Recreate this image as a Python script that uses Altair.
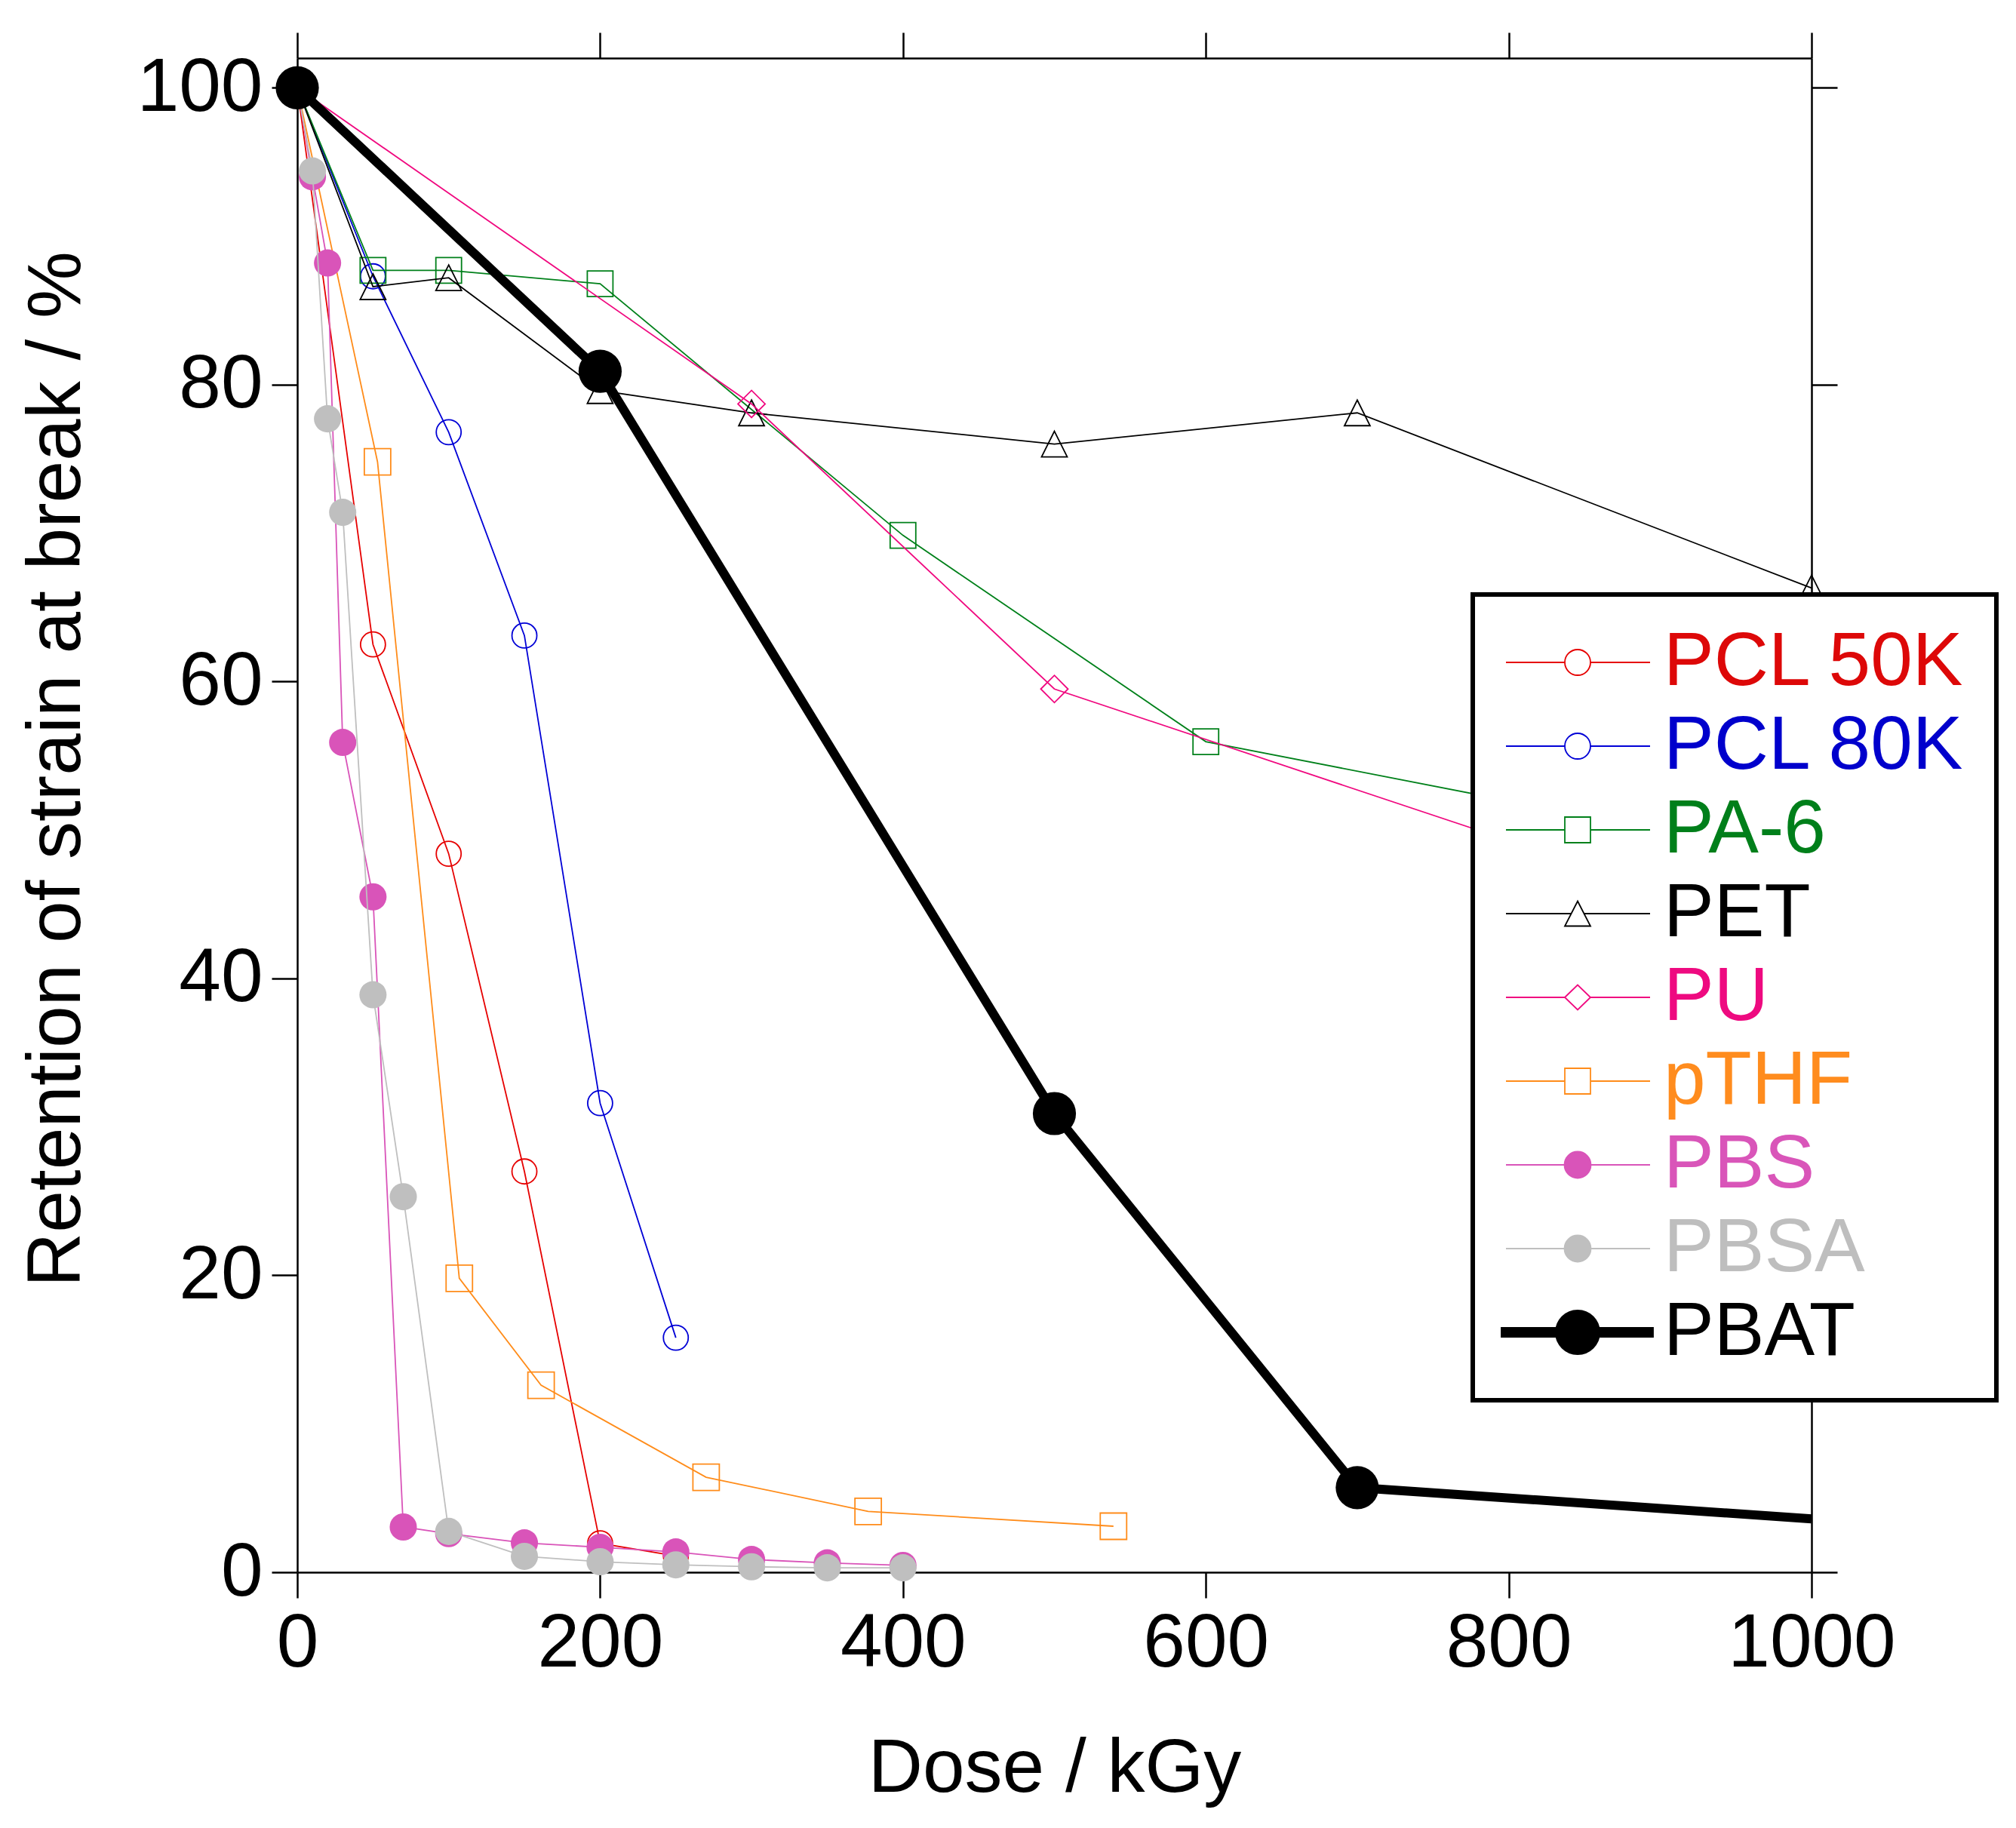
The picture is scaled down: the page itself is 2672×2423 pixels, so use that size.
import altair as alt
import pandas as pd

# ---------------- data ----------------
series = ["PCL 50K", "PCL 80K", "PA-6", "PET", "PU", "pTHF", "PBS", "PBSA", "PBAT"]

pcl50_dose = [0, 50, 100, 150, 200, 250]
pcl50_val = [100, 62.5, 48.4, 27.0, 1.95, 1.1]

pcl80_dose = [0, 50, 100, 150, 200, 250]
pcl80_val = [100, 87.3, 76.8, 63.1, 31.6, 15.8]

pa6_dose = [0, 50, 100, 200, 400, 600, 1000]
pa6_val = [100, 87.7, 87.7, 86.8, 69.85, 55.95, 48.0]

pet_dose = [0, 50, 100, 200, 300, 500, 700, 1000]
pet_val = [100, 86.6, 87.2, 79.6, 78.1, 76.0, 78.1, 66.3]

pu_dose = [0, 300, 500, 1000]
pu_val = [100, 78.7, 59.5, 42.5]

pthf_dose = [0, 53, 107, 161, 270, 377, 539]
pthf_val = [100, 74.8, 19.8, 12.6, 6.4, 4.1, 3.1]

pbs_dose = [0, 10, 20, 30, 50, 70, 100, 150, 200, 250, 300, 350, 400]
pbs_val = [100, 94.0, 88.2, 55.9, 45.5, 3.05, 2.6, 1.98, 1.68, 1.37, 0.86, 0.63, 0.46]

pbsa_dose = [0, 10, 20, 30, 50, 70, 100, 150, 200, 250, 300, 350, 400]
pbsa_val = [100, 94.4, 77.7, 71.4, 38.9, 25.3, 2.75, 1.07, 0.71, 0.5, 0.37, 0.3, 0.3]

pbat_dose = [0, 200, 500, 700, 1000]
pbat_val = [100, 80.9, 30.9, 5.7, 3.6]

x_ticks = [0, 200, 400, 600, 800, 1000]
y_ticks = [0, 20, 40, 60, 80, 100]

# ---------------- styles ----------------
line_colors = ["#E60000", "#0000D6", "#00801A", "#000000", "#F0087F",
               "#FF8C1A", "#D954B9", "#BFBFBF", "#000000"]
label_colors = ["#DD0808", "#0000CC", "#007F1A", "#000000", "#EE0A80",
                "#FF8C1E", "#D955B9", "#BEBEBE", "#000000"]
TRI = "M0,-1L1,1L-1,1Z"
shapes = ["circle", "circle", "square", TRI, "diamond", "square", "circle", "circle", "circle"]
filled = [False, False, False, False, False, False, True, True, True]
sizes = [1089, 1089, 1156, 1156, 1300, 1225, 1300, 1300, 3270]
line_widths = [1.8] * 8 + [12]

doses = [pcl50_dose, pcl80_dose, pa6_dose, pet_dose, pu_dose, pthf_dose, pbs_dose, pbsa_dose, pbat_dose]
vals = [pcl50_val, pcl80_val, pa6_val, pet_val, pu_val, pthf_val, pbs_val, pbsa_val, pbat_val]

FONT = "Arial, Liberation Sans, Helvetica, sans-serif"

W, H = 2007, 2007
xscale = alt.Scale(domain=[0, 1000], nice=False, zero=False)
yscale = alt.Scale(domain=[0, 102], nice=False, zero=False)

axis_common = dict(grid=False, tickSize=34, tickWidth=2.5, domainWidth=2.5,
                   domainColor="black", tickColor="black", labelColor="black",
                   titleColor="black", labelFont=FONT, titleFont=FONT,
                   labelFontSize=100, titleFontSize=100, titleFontWeight="normal",
                   labelOverlap=False, labelFlush=False, labelLimit=0)

x_bottom = alt.Axis(values=x_ticks, format="d", title="Dose / kGy", labelPadding=11,
                    titlePadding=67, **axis_common)
y_left = alt.Axis(values=y_ticks, format="d", title="Retention of strain at break / %",
                  labelPadding=12, titlePadding=68, titleY=942, **axis_common)
x_top = alt.Axis(values=x_ticks, orient="top", labels=False, title=None, **axis_common)
y_right = alt.Axis(values=y_ticks, orient="right", labels=False, title=None, **axis_common)

layers = []
for i, name in enumerate(series):
    df = pd.DataFrame({"dose": doses[i], "val": vals[i]})
    if i == 0:
        xa, ya = x_bottom, y_left
    else:
        xa, ya = None, None
    line = alt.Chart(df).mark_line(color=line_colors[i], strokeWidth=line_widths[i],
                                   opacity=1).encode(
        x=alt.X("dose:Q", scale=xscale, axis=xa),
        y=alt.Y("val:Q", scale=yscale, axis=ya),
    )
    if i == 0:
        xa2, ya2 = x_top, y_right
    else:
        xa2, ya2 = None, None
    pts_base = alt.Chart(df)
    if name == "PBAT":
        pts_base = pts_base.transform_filter("datum.dose < 1000")
    pts = pts_base.mark_point(shape=shapes[i], size=sizes[i], filled=filled[i],
                              color=line_colors[i], strokeWidth=1.8, opacity=1).encode(
        x=alt.X("dose:Q", scale=xscale, axis=xa2),
        y=alt.Y("val:Q", scale=yscale, axis=ya2),
    )
    layers += [line, pts]

# ---------------- legend (custom symbols: line + marker) ----------------
# unit = 10 px (symbolSize 400 -> sqrt(400)/2)
L0, L1, C = -0.3, 18.8, 9.2


def seg(r):
    return f"M{L0},0H{C - r:.2f}M{C + r:.2f},0H{L1}"


def circ(r):
    return f"M{C - r:.2f},0A{r},{r} 0 1,1 {C + r:.2f},0A{r},{r} 0 1,1 {C - r:.2f},0Z"


legend_paths = [
    seg(1.7) + circ(1.7),
    seg(1.7) + circ(1.7),
    seg(1.7) + f"M{C - 1.7:.2f},-1.7H{C + 1.7:.2f}V1.7H{C - 1.7:.2f}Z",
    seg(0.85) + f"M{C},-1.65L{C + 1.7:.2f},1.65H{C - 1.7:.2f}Z",
    seg(1.7) + f"M{C - 1.7:.2f},0L{C},-1.65L{C + 1.7:.2f},0L{C},1.65Z",
    seg(1.7) + f"M{C - 1.7:.2f},-1.7H{C + 1.7:.2f}V1.7H{C - 1.7:.2f}Z",
    seg(1.75) + circ(1.75),
    seg(1.75) + circ(1.75),
    "M-0.9,-0.6H19.2V0.6H-0.9Z" + circ(2.9),
]
legend_fills = [c if f else "transparent" for c, f in zip(line_colors, filled)]

label_expr = "".join(f"datum.label === '{s}' ? '{c}' : " for s, c in zip(series, label_colors)) + "'black'"

leg = alt.Legend(title=None, orient="none", legendX=1558, legendY=711,
                 padding=40, rowPadding=11, labelOffset=156, symbolOffset=-43,
                 labelLimit=0,
                 labelFont=FONT, labelFontSize=100, labelColor={"expr": label_expr},
                 symbolSize=400, symbolStrokeWidth=1.8, symbolOpacity=1,
                 strokeColor="black", fillColor="white")

legend_layer = alt.Chart(pd.DataFrame({"series": series})).transform_filter("false").mark_point(
    size=400, strokeWidth=1.8, opacity=1
).encode(
    shape=alt.Shape("series:N", scale=alt.Scale(domain=series, range=legend_paths), legend=leg),
    stroke=alt.Stroke("series:N", scale=alt.Scale(domain=series, range=line_colors), legend=leg),
    fill=alt.Fill("series:N", scale=alt.Scale(domain=series, range=legend_fills), legend=leg),
)

chart = alt.layer(*layers, legend_layer).resolve_axis(
    x="independent", y="independent"
).properties(
    width=W, height=H,
    autosize=alt.AutoSizeParams(type="none"),
    padding={"left": 386, "top": 69, "right": 263, "bottom": 330},
    background="white",
).configure_view(stroke=None).configure_legend(strokeWidth=6)

chart.save("out.html", embed_options={"renderer": "svg", "actions": False})
